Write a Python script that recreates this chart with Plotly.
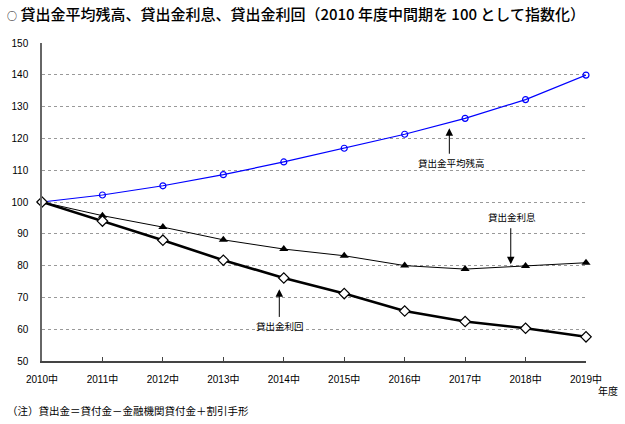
import plotly.graph_objects as go

categories = ["2010中", "2011中", "2012中", "2013中", "2014中", "2015中",
              "2016中", "2017中", "2018中", "2019中"]
balance = [100, 102.2, 105.1, 108.6, 112.6, 116.9, 121.3, 126.3, 132.2, 139.9]
interest = [100, 95.7, 92.1, 88.1, 85.2, 83.1, 80.0, 78.9, 79.9, 80.9]
yield_rate = [100, 94.0, 88.0, 81.7, 76.1, 71.2, 65.7, 62.4, 60.3, 57.6]
y_ticks = [50, 60, 70, 80, 90, 100, 110, 120, 130, 140, 150]

x = list(range(len(categories)))
FONT = "Liberation Sans, Arial, Noto Sans CJK JP"

fig = go.Figure()
fig.add_trace(go.Scatter(
    x=x, y=balance, mode="lines+markers", name="貸出金平均残高",
    line=dict(color="#0000FF", width=1.2),
    marker=dict(symbol="circle-open", size=6, color="#0000FF", line=dict(width=1.2)),
    cliponaxis=False))
fig.add_trace(go.Scatter(
    x=x, y=interest, mode="lines+markers", name="貸出金利息",
    line=dict(color="#000000", width=1),
    marker=dict(symbol="triangle-up", size=8, color="#000000"),
    cliponaxis=False))
fig.add_trace(go.Scatter(
    x=x, y=yield_rate, mode="lines+markers", name="貸出金利回",
    line=dict(color="#000000", width=2.6),
    marker=dict(symbol="diamond", size=8, color="#FFFFFF",
                line=dict(color="#000000", width=1.2)),
    cliponaxis=False))

# label annotations: (text, text_x, text_y, tip_x, tip_y, tail_offset_y)
labels = [
    ("貸出金平均残高", 6.767, 112.3, 6.739, 123.2, 27),
    ("貸出金利息", 7.771, 95.2, 7.755, 80.4, -37.6),
    ("貸出金利回", 3.943, 60.9, 3.926, 72.6, 29.3),
]
annotations = []
for txt, tx, ty, ax_, ay_, off in labels:
    annotations.append(dict(x=ax_, y=ay_, xref="x", yref="y", text="",
                            showarrow=True, ax=0, ay=off, arrowhead=2,
                            arrowsize=1.5, arrowwidth=1, arrowcolor="#000000",
                            standoff=0, startstandoff=0))
    annotations.append(dict(x=tx, y=ty, xref="x", yref="y", text=txt,
                            showarrow=False,
                            font=dict(family="Noto Sans CJK JP", size=9.5, color="#000000")))

annotations.append(dict(
    x=-0.068, y=1.094, xref="paper", yref="paper", xanchor="left", yanchor="middle",
    text="<span style='font-size:10px'>○</span> 貸出金平均残高、貸出金利息、貸出金利回（2010 年度中間期を 100 として指数化）",
    showarrow=False,
    font=dict(family="Noto Sans CJK JP", size=15, color="#000000", weight=500)))
annotations.append(dict(
    x=1.0404, y=-0.0912, xref="paper", yref="paper", xanchor="center", yanchor="middle",
    text="年度", showarrow=False,
    font=dict(family="Noto Sans CJK JP", size=10, color="#000000")))
annotations.append(dict(
    x=-0.068, y=-0.157, xref="paper", yref="paper", xanchor="left", yanchor="middle",
    text="（注）貸出金＝貸付金－金融機関貸付金＋割引手形", showarrow=False,
    font=dict(family="Noto Sans CJK JP", size=10.5, color="#000000")))

fig.update_layout(
    width=625, height=424,
    margin=dict(l=42, r=39, t=43, b=63, pad=0),
    paper_bgcolor="#FFFFFF", plot_bgcolor="#FFFFFF",
    showlegend=False,
    font=dict(family=FONT, size=10, color="#000000"),
    annotations=annotations,
)
fig.update_xaxes(
    range=[0, 9], tickmode="array", tickvals=x, ticktext=categories,
    showgrid=False, zeroline=False, showline=True, linecolor="#444444", linewidth=1.5,
    ticks="inside", ticklen=4, tickcolor="#444444", tickwidth=1,
    ticklabelstandoff=8, tickfont=dict(family=FONT, size=10, color="#000000"))
fig.update_yaxes(
    range=[50, 150], tickmode="array", tickvals=y_ticks,
    showgrid=True, gridcolor="#999999", griddash="dot", gridwidth=1,
    zeroline=False, showline=True, linecolor="#666666", linewidth=1.5,
    ticks="", ticklabelstandoff=10,
    tickfont=dict(family=FONT, size=10, color="#000000"))

fig.write_html("out.html")
